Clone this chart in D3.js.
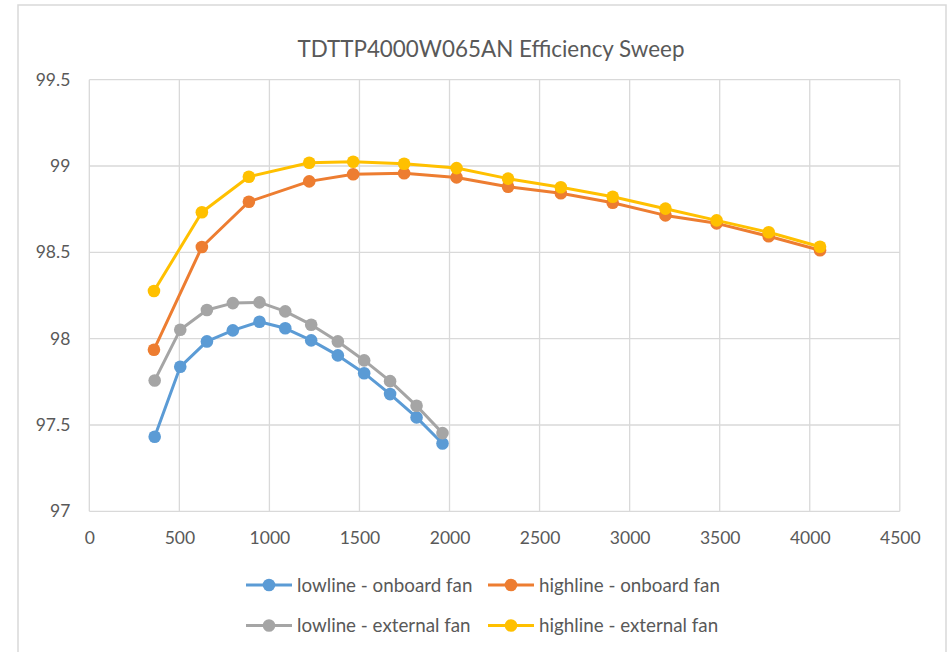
<!DOCTYPE html>
<html>
<head>
<meta charset="utf-8">
<script src="https://cdn.jsdelivr.net/npm/d3@7"></script>
<style>
  html, body { margin: 0; padding: 0; background: #fff; }
  svg { display: block; }
  text { font-family: Lato, "Open Sans", sans-serif; fill: #595959; }
</style>
</head>
<body>
<svg id="chart" width="949" height="652"></svg>
<script>
const title = "TDTTP4000W065AN Efficiency Sweep";
const xTicks = [0, 500, 1000, 1500, 2000, 2500, 3000, 3500, 4000, 4500];
const yTicks = [97, 97.5, 98, 98.5, 99, 99.5];

const seriesNames = ["lowline - onboard fan", "highline - onboard fan", "lowline - external fan", "highline - external fan"];
const seriesColors = ["#5B9BD5", "#ED7D31", "#A5A5A5", "#FFC000"];

const lowPower = [363, 505, 653, 797, 945, 1088, 1232, 1380, 1526, 1670, 1817, 1961];
const highPower = [359, 625, 886, 1221, 1465, 1748, 2039, 2325, 2618, 2906, 3199, 3483, 3772, 4057];

const lowlineOnboard = [97.432, 97.837, 97.984, 98.048, 98.098, 98.060, 97.990, 97.903, 97.800, 97.679, 97.544, 97.393];
const lowlineExternal = [97.758, 98.052, 98.166, 98.206, 98.210, 98.158, 98.081, 97.984, 97.874, 97.754, 97.611, 97.453];
const highlineOnboard = [97.936, 98.531, 98.793, 98.911, 98.952, 98.958, 98.934, 98.880, 98.842, 98.787, 98.714, 98.668, 98.593, 98.512];
const highlineExternal = [98.276, 98.732, 98.938, 99.019, 99.025, 99.013, 98.988, 98.927, 98.877, 98.822, 98.753, 98.685, 98.616, 98.532];

const series = [
  { name: seriesNames[0], color: seriesColors[0], xs: lowPower, ys: lowlineOnboard },
  { name: seriesNames[1], color: seriesColors[1], xs: highPower, ys: highlineOnboard },
  { name: seriesNames[2], color: seriesColors[2], xs: lowPower, ys: lowlineExternal },
  { name: seriesNames[3], color: seriesColors[3], xs: highPower, ys: highlineExternal }
];

const svg = d3.select("#chart");
const plot = { left: 89.3, right: 899.8, top: 79.7, bottom: 511.3 };

// chart border
svg.append("rect").attr("x", 18).attr("y", 5).attr("width", 928).attr("height", 660)
  .attr("fill", "#fff").attr("stroke", "#D9D9D9").attr("stroke-width", 1.5);

const x = d3.scaleLinear().domain([0, 4500]).range([plot.left, plot.right]);
const y = d3.scaleLinear().domain([97, 99.5]).range([plot.bottom, plot.top]);

// gridlines
const grid = svg.append("g");
grid.selectAll("line.v").data(xTicks).join("line")
  .attr("x1", d => x(d)).attr("x2", d => x(d))
  .attr("y1", plot.top).attr("y2", plot.bottom)
  .attr("stroke", "#D9D9D9").attr("stroke-width", 1.3);
grid.selectAll("line.h").data(yTicks).join("line")
  .attr("x1", plot.left).attr("x2", plot.right)
  .attr("y1", d => y(d)).attr("y2", d => y(d))
  .attr("stroke", "#D9D9D9").attr("stroke-width", 1.3);

// axes via d3 axis
const xAxis = d3.axisBottom(x).tickValues(xTicks).tickSize(0).tickPadding(20).tickFormat(d3.format("d"));
const gx = svg.append("g").attr("transform", `translate(0,${plot.bottom})`).call(xAxis);
gx.select(".domain").remove();
gx.selectAll("text").attr("font-size", 17.5).attr("fill", "#595959").style("font-family", "Lato, sans-serif");

const yAxis = d3.axisLeft(y).tickValues(yTicks).tickSize(0).tickPadding(19).tickFormat(d => d3.format("")(d));
const gy = svg.append("g").attr("transform", `translate(${plot.left},0)`).call(yAxis);
gy.select(".domain").remove();
gy.selectAll("text").attr("font-size", 17.5).attr("fill", "#595959").style("font-family", "Lato, sans-serif");

// title
svg.append("text").attr("x", 491).attr("y", 57).attr("text-anchor", "middle")
  .attr("font-size", 22.4).text(title);

// series
const line = d3.line().x(d => x(d[0])).y(d => y(d[1]));
series.forEach(s => {
  const pts = s.xs.map((v, i) => [v, s.ys[i]]);
  const g = svg.append("g");
  g.append("path").datum(pts).attr("d", line).attr("fill", "none")
    .attr("stroke", s.color).attr("stroke-width", 3).attr("stroke-linejoin", "round");
  g.selectAll("circle").data(pts).join("circle")
    .attr("cx", d => x(d[0])).attr("cy", d => y(d[1])).attr("r", 6.3)
    .attr("fill", s.color);
});

// legend
const legendPos = [[246, 585], [488, 585], [246, 625.5], [488, 625.5]];
series.forEach((s, i) => {
  const [lx, ly] = legendPos[i];
  const g = svg.append("g").attr("transform", `translate(${lx},${ly})`);
  g.append("line").attr("x1", 0).attr("x2", 46).attr("y1", 0).attr("y2", 0)
    .attr("stroke", s.color).attr("stroke-width", 3);
  g.append("circle").attr("cx", 23).attr("cy", 0).attr("r", 6.3).attr("fill", s.color);
  g.append("text").attr("x", 51).attr("y", 0).attr("dy", "0.35em")
    .attr("font-size", 18.8).text(s.name);
});
</script>
</body>
</html>
